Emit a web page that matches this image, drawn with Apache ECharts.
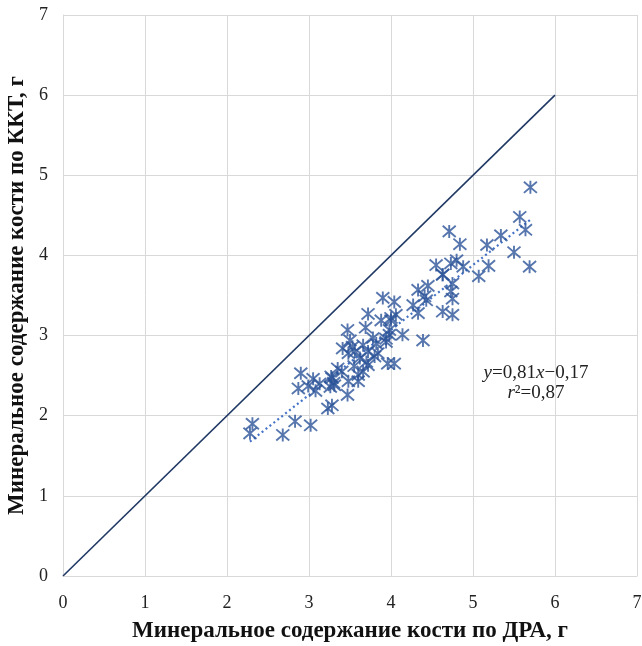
<!DOCTYPE html>
<html>
<head>
<meta charset="utf-8">
<script src="https://cdn.jsdelivr.net/npm/echarts@6/dist/echarts.min.js"></script>
<style>
  html, body { margin: 0; padding: 0; background: #ffffff; }
  #chart { width: 642px; height: 646px; }
</style>
</head>
<body>
<div id="chart"></div>
<script>
// Bone mineral content: DXA (x) vs QCT (y), grams
const dpaValues = [
  2.28, 2.31, 2.68, 2.83, 3.02,
  2.90, 2.87, 2.99, 3.05, 3.08, 3.13, 3.23, 3.28, 3.26, 3.28,
  3.90, 4.04, 3.72, 3.88, 4.00, 3.47, 3.69, 3.98, 3.50, 3.78,
  3.82, 3.94, 3.41, 3.53, 3.66, 3.56, 3.72, 3.84, 3.48, 3.62,
  3.80, 3.96, 4.04, 3.35, 3.72, 3.66, 3.60, 3.27, 3.48, 3.31,
  3.60, 3.47, 3.40, 3.55, 3.98, 3.94, 3.70, 3.30,
  4.55, 4.73, 4.80, 4.63, 4.45, 4.33, 4.75, 4.73, 4.43, 4.75,
  4.27, 4.33, 4.63, 4.75, 4.06, 4.00, 4.14, 4.39, 4.41, 4.71,
  4.84, 4.88, 4.63,
  5.70, 5.57, 5.64, 5.34, 5.17, 5.50, 5.19, 5.69, 5.07
];
const kktValues = [
  1.78, 1.90, 1.76, 1.93, 1.88,
  2.53, 2.34, 2.37, 2.46, 2.31, 2.40, 2.09, 2.13, 2.36, 2.47,
  3.47, 3.42, 3.27, 3.19, 3.22, 3.07, 3.10, 3.01, 2.94, 2.97,
  2.90, 2.92, 2.84, 2.86, 2.88, 2.80, 2.80, 2.78, 2.78, 2.72,
  2.74, 2.65, 2.65, 2.59, 2.63, 2.55, 2.51, 2.49, 2.43, 2.38,
  2.43, 2.26, 2.55, 2.62, 3.07, 2.96, 2.67, 2.41,
  3.88, 3.90, 3.94, 3.76, 3.62, 3.57, 3.65, 3.55, 3.44, 3.46,
  3.38, 3.28, 3.30, 3.26, 3.26, 3.19, 3.01, 2.94, 3.49, 4.30,
  4.14, 3.86, 3.76,
  4.85, 4.48, 4.32, 4.25, 4.13, 4.04, 3.87, 3.86, 3.74
];

// Regression y = 0.81x − 0.17 and the line of identity
const fitSlope = 0.81;
const fitIntercept = -0.17;
const identityEnd = 6;
const axisMin = 0, axisMax = 7, axisStep = 1;

const points = dpaValues.map((x, i) => [x, kktValues[i]]);
const xLo = Math.min(...dpaValues), xHi = Math.max(...dpaValues);
const fitLine = [[xLo, fitSlope * xLo + fitIntercept], [xHi, fitSlope * xHi + fitIntercept]];
const identityLine = [[0, 0], [identityEnd, identityEnd]];

const serif = '"Liberation Serif", "Times New Roman", serif';
const gridColor = '#d9d9d9';
const starSymbol = 'path://M7,0 L7,14 M1,1 L13,13 M1,13 L13,1';

const chart = echarts.init(document.getElementById('chart'), null, { renderer: 'canvas' });

const axisCommon = {
  min: axisMin, max: axisMax, interval: axisStep,
  axisLine: { show: true, lineStyle: { color: gridColor, width: 1 } },
  axisTick: { show: false },
  splitLine: { show: true, lineStyle: { color: gridColor, width: 1 } },
  axisLabel: { color: '#222', fontFamily: serif, fontSize: 18 },
  nameLocation: 'middle',
  nameTextStyle: { color: '#111', fontFamily: serif, fontSize: 23, fontWeight: 'bold' }
};

chart.setOption({
  animation: false,
  backgroundColor: '#ffffff',
  grid: { left: 63, right: 5, top: 15, bottom: 70, containLabel: false, outerBoundsMode: 'none' },
  xAxis: Object.assign({}, axisCommon, {
    type: 'value',
    name: 'Минеральное содержание кости по ДРА, г',
    nameGap: 44,
    axisLabel: Object.assign({}, axisCommon.axisLabel, { margin: 18 })
  }),
  yAxis: Object.assign({}, axisCommon, {
    type: 'value',
    name: 'Минеральное содержание кости по ККТ, г',
    nameGap: 34,
    axisLabel: Object.assign({}, axisCommon.axisLabel, { margin: 15 })
  }),
  series: [
    {
      type: 'line',
      data: identityLine,
      showSymbol: false,
      lineStyle: { color: '#1f3864', width: 1.6 },
      z: 2
    },
    {
      type: 'line',
      data: fitLine,
      showSymbol: false,
      lineStyle: { color: '#4472c4', width: 2.2, type: [2, 3] },
      z: 3
    },
    {
      type: 'scatter',
      data: points,
      symbol: starSymbol,
      symbolSize: 13,
      itemStyle: { color: 'rgba(0,0,0,0)', borderColor: '#2c5498', borderWidth: 1.9 },
      z: 4
    }
  ],
  graphic: [
    {
      type: 'text',
      x: 536,
      y: 363,
      style: {
        text: '{i|y}=0,81{i|x}−0,17\n{i|r}²=0,87',
        fontFamily: serif,
        fontSize: 19,
        fill: '#222',
        align: 'center',
        lineHeight: 20,
        rich: {
          i: { fontStyle: 'italic', fontFamily: serif, fontSize: 19, fill: '#222' }
        }
      }
    }
  ]
});
</script>
</body>
</html>
